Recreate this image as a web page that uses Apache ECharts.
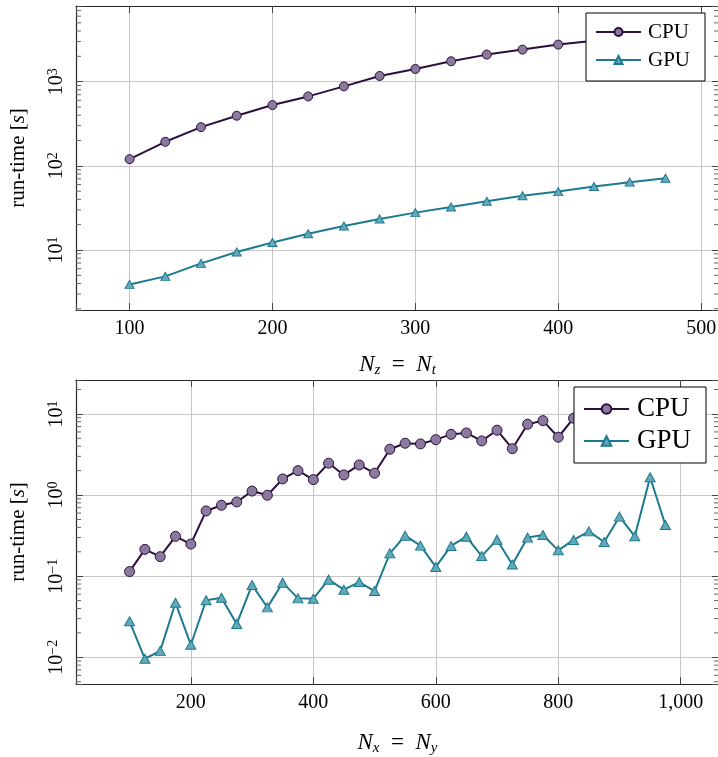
<!DOCTYPE html>
<html>
<head>
<meta charset="utf-8">
<title>run-time CPU vs GPU</title>
<script src="https://cdn.jsdelivr.net/npm/echarts@6/dist/echarts.min.js"></script>
<style>
body{margin:0;background:#fff;}
#chart{width:718px;height:757px;}
</style>
</head>
<body>
<div id="chart"></div>
<script>

// top plot: N_z = N_t
const nzt = [100,125,150,175,200,225,250,275,300,325,350,375,400,425,450,475]
const cpuTop = [120,193,288,394,527,668,879,1169,1415,1746,2096,2404,2756,3070,3470,4000]
const gpuTop = [3.9,4.86,6.93,9.47,12.3,15.6,19.3,23.4,27.8,32.5,38,44,49.4,56.7,64,71.3]

// bottom plot: N_x = N_y
const nxy = [100,125,150,175,200,225,250,275,300,325,350,375,400,425,450,475,500,525,
  550,575,600,625,650,675,700,725,750,775,800,825,850,875,900,925,950,975]
const cpuBottom = [0.114,0.214,0.174,0.31,0.249,0.637,0.748,0.822,1.12,0.995,1.58,2.0,1.55,2.47,1.77,2.35,1.86,3.67,
  4.35,4.27,4.82,5.6,5.83,4.65,6.3,3.73,7.46,8.27,5.16,8.85,9.5,8.4,11.2,9.6,12.7,11.5]
const gpuBottom = [0.0278,0.0096,0.012,0.047,0.0143,0.0505,0.0543,0.0258,0.078,0.0413,0.0832,0.0533,0.0528,0.0906,0.0682,0.0847,0.0656,0.191,
  0.316,0.238,0.130,0.236,0.307,0.177,0.282,0.139,0.299,0.322,0.208,0.280,0.357,0.264,0.542,0.31,1.66,0.428]

// tick labels
const topXTicks = [100,200,300,400,500]
const bottomXTicks = [200,400,600,800,1000]
const topYExp = [1,2,3]
const bottomYExp = [-2,-1,0,1]

const font = "Liberation Serif"
const cpuLine = "#2c0e3f"
const cpuFill = "#8a7a9e"
const gpuLine = "#1c7a90"
const gpuFill = "#64a9ba"

const chart = echarts.init(document.getElementById("chart"))

function minorList(lo, hi){
  const out=[]
  for(let e=Math.floor(Math.log10(lo)); e<=Math.ceil(Math.log10(hi)); e++){
    for(let k=2;k<=9;k++){
      const v=k*Math.pow(10,e)
      if(v>lo && v<hi) out.push(v)
    }
  }
  return out
}

function xAxes(grid, min, max, ticks, nameRich, gap){
  return [{
    type:"value", gridIndex:grid, min:min, max:max, position:"bottom",
    axisLine:{onZero:false, lineStyle:{color:"#262626", width:1.2}},
    axisTick:{inside:true, length:7, lineStyle:{color:"#444"}},
    splitLine:{lineStyle:{color:"#c6c6c6", width:1}},
    axisLabel:{
      margin:9, color:"#000", fontFamily:font, fontSize:20,
      formatter:v=>ticks.includes(v) ? v.toLocaleString("en-US") : ""
    },
    name:nameRich, nameLocation:"middle", nameGap:gap,
    nameTextStyle:{
      rich:{
        i:{fontFamily:font, fontStyle:"italic", fontSize:23, color:"#000", lineHeight:26},
        e:{fontFamily:font, fontSize:23, color:"#000", lineHeight:26},
        sub:{fontFamily:font, fontStyle:"italic", fontSize:15, color:"#000", lineHeight:16, verticalAlign:"bottom"}
      }
    }
  },{
    type:"value", gridIndex:grid, min:min, max:max, position:"top",
    axisLine:{onZero:false, lineStyle:{color:"#262626", width:1.2}},
    axisTick:{inside:true, length:7, lineStyle:{color:"#444"}},
    splitLine:{show:false}, axisLabel:{show:false}
  }]
}

function yAxes(grid, min, max, exps){
  return [{
    type:"log", gridIndex:grid, min:min, max:max, position:"left",
    axisLine:{lineStyle:{color:"#262626", width:1.2}},
    axisTick:{inside:true, length:7, lineStyle:{color:"#444"}},
    splitLine:{lineStyle:{color:"#c6c6c6", width:1}},
    axisLabel:{
      rotate:90, margin:8,
      formatter:v=>{
        const l=Math.log10(v), e=Math.round(l)
        if(Math.abs(l-e)>1e-6 || !exps.includes(e)) return ""
        return "{b|10}{s|"+(e<0 ? "\u2212"+(-e) : e)+"}"
      },
      rich:{
        b:{fontFamily:font, fontSize:20, color:"#000", lineHeight:22},
        s:{fontFamily:font, fontSize:14, color:"#000", lineHeight:14, verticalAlign:"top"}
      }
    },
    name:"{a|run-time [}{it|s}{a|]}", nameLocation:"middle", nameGap:47, nameRotate:90,
    nameTextStyle:{
      rich:{
        a:{fontFamily:font, fontSize:21, color:"#000"},
        it:{fontFamily:font, fontStyle:"italic", fontSize:21, color:"#000"}
      }
    }
  },{
    type:"log", gridIndex:grid, min:min, max:max, position:"right",
    axisLine:{lineStyle:{color:"#262626", width:1.2}},
    axisTick:{inside:true, length:7, lineStyle:{color:"#444"}},
    splitLine:{show:false}, axisLabel:{show:false}
  }]
}

function lineSeries(name, xs, ys, xi, yi, isCpu, size){
  return {
    name:name, type:"line", xAxisIndex:xi, yAxisIndex:yi,
    data:xs.map((x,i)=>[x, ys[i]]),
    symbol:isCpu ? "circle" : "triangle",
    symbolSize:isCpu ? size : [size-1, size-2],
    showAllSymbol:true,
    lineStyle:{color:isCpu ? cpuLine : gpuLine, width:2},
    itemStyle:{color:isCpu ? cpuFill : gpuFill, borderColor:isCpu ? cpuLine : gpuLine, borderWidth:1},
    z:3, animation:false
  }
}

function minorSeries(xi, yi, xmin, xmax, ymin, ymax){
  return {
    type:"custom", xAxisIndex:xi, yAxisIndex:yi, silent:true, animation:false, z:2,
    data:minorList(ymin, ymax).map(v=>[xmin, v]),
    renderItem:(params, api)=>{
      const a=api.coord([xmin, api.value(1)])
      const b=api.coord([xmax, api.value(1)])
      return {type:"group", children:[
        {type:"line", shape:{x1:a[0], y1:a[1], x2:a[0]+5, y2:a[1]}, style:{stroke:"#666", lineWidth:1}},
        {type:"line", shape:{x1:b[0], y1:b[1], x2:b[0]-5, y2:b[1]}, style:{stroke:"#666", lineWidth:1}}
      ]}
    }
  }
}

const topY=[1.936, 7925]
const botY=[0.00469, 26.2]

chart.setOption({
  animation:false,
  grid:[
    {left:76, top:6, width:643, height:304, outerBoundsMode:"none", containLabel:false},
    {left:76, top:380, width:643, height:304, outerBoundsMode:"none", containLabel:false}
  ],
  xAxis:[
    ...xAxes(0, 62.5, 512.5, topXTicks, "{i|N}{sub|z}{e|\u2002=\u2002}{i|N}{sub|t}", 42),
    ...xAxes(1, 12.5, 1062.5, bottomXTicks, "{i|N}{sub|x}{e|\u2002=\u2002}{i|N}{sub|y}", 46)
  ],
  yAxis:[
    ...yAxes(0, topY[0], topY[1], topYExp),
    ...yAxes(1, botY[0], botY[1], bottomYExp)
  ],
  legend:[{
    data:["CPU","GPU"], orient:"vertical", left:586, top:13,
    itemWidth:45, itemHeight:10, itemGap:6, padding:[8,15,10,9],
    borderColor:"#000", borderWidth:1, borderRadius:0, backgroundColor:"#fff",
    textStyle:{fontFamily:font, fontSize:21, color:"#000", lineHeight:22, padding:[0,0,0,2]},
    selectedMode:false
  },{
    data:["CPU","GPU"], orient:"vertical", left:574, top:387,
    itemWidth:45, itemHeight:12, itemGap:4, padding:[8,15,8,9],
    borderColor:"#000", borderWidth:1, borderRadius:0, backgroundColor:"#fff",
    textStyle:{fontFamily:font, fontSize:27, color:"#000", lineHeight:28, padding:[0,0,0,3]},
    selectedMode:false
  }],
  series:[
    minorSeries(0, 0, 62.5, 512.5, topY[0], topY[1]),
    minorSeries(2, 2, 12.5, 1062.5, botY[0], botY[1]),
    lineSeries("CPU", nzt, cpuTop, 0, 0, true, 9),
    lineSeries("GPU", nzt, gpuTop, 0, 0, false, 10),
    lineSeries("CPU", nxy, cpuBottom, 2, 2, true, 10),
    lineSeries("GPU", nxy, gpuBottom, 2, 2, false, 11)
  ]
})

</script>
</body>
</html>
